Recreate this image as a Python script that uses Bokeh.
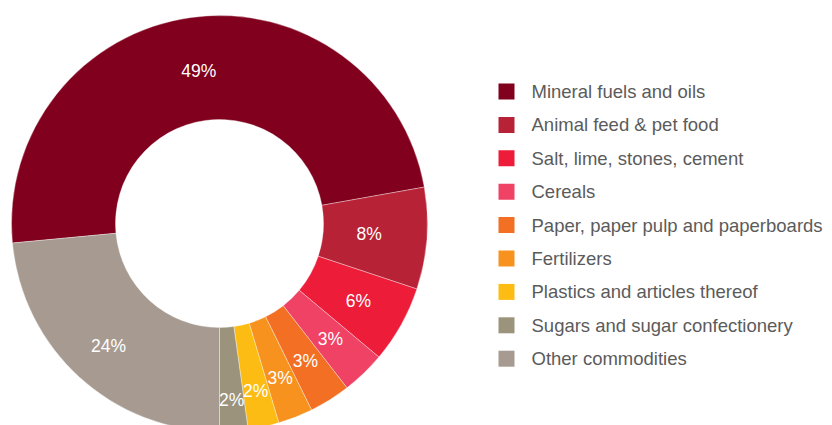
import math
from bokeh.plotting import figure
from bokeh.models import Range1d, ColumnDataSource
from bokeh.core.properties import value
from bokeh.embed import file_html
from bokeh.resources import INLINE

# ---- data ----
categories = [
    "Mineral fuels and oils",
    "Animal feed & pet food",
    "Salt, lime, stones, cement",
    "Cereals",
    "Paper, paper pulp and paperboards",
    "Fertilizers",
    "Plastics and articles thereof",
    "Sugars and sugar confectionery",
    "Other commodities",
]
shares = [48.7, 7.9, 6.0, 3.4, 3.2, 2.7, 2.4, 2.2, 23.5]
labels = ["49%", "8%", "6%", "3%", "3%", "3%", "2%", "2%", "24%"]
colors = ["#80001d", "#b82236", "#ed1c38", "#ef4264", "#f26f23",
          "#f7921e", "#fcbc13", "#9b937b", "#a79b91"]

# ---- styling / geometry ----
W, H = 832, 425
cx, cy = 219, H - 223
r_out, r_in = 208, 104
start_deg = 270 - shares[-1] * 3.6  # slices go clockwise, last one ends at the bottom
label_r = [154, 150, 159, 160, 162, 166, 171, 177, 165]

total = sum(shares)
starts, ends, lx, ly = [], [], [], []
a = math.radians(start_deg)
for s, lr in zip(shares, label_r):
    span = 2 * math.pi * s / total
    a_end = a - span
    starts.append(a_end)
    ends.append(a)
    mid = (a + a_end) / 2
    lx.append(cx + lr * math.cos(mid))
    ly.append(cy + lr * math.sin(mid))
    a = a_end

p = figure(width=W, height=H, output_backend="svg", toolbar_location=None,
           x_range=Range1d(0, W), y_range=Range1d(0, H), min_border=0)
p.axis.visible = False
p.grid.visible = False
p.outline_line_color = None
p.background_fill_color = "white"
p.border_fill_color = "white"

src = ColumnDataSource(dict(start=starts, end=ends, color=colors, cat=categories))
p.annular_wedge(x=cx, y=cy, inner_radius=r_in, outer_radius=r_out,
                start_angle="start", end_angle="end", fill_color="color",
                line_color="white", line_width=0.6, line_alpha=0.6, source=src)

p.text(x=lx, y=ly, text=labels, text_color="white", text_font=value("Liberation Sans"),
       text_font_size="17.5px", text_align="center", text_baseline="middle")

# legend
leg_x, leg_y0, leg_dy = 506, H - 91, 33.4
ys = [leg_y0 - i * leg_dy for i in range(len(categories))]
p.rect(x=[leg_x] * len(categories), y=ys, width=16, height=16, fill_color=colors,
       line_color=None)
p.text(x=[leg_x + 25] * len(categories), y=ys, text=categories, text_color="#5b5b5b",
       text_font=value("Liberation Sans"), text_font_size="18.5px",
       text_align="left", text_baseline="middle")

open("out.html", "w").write(file_html(p, INLINE))
